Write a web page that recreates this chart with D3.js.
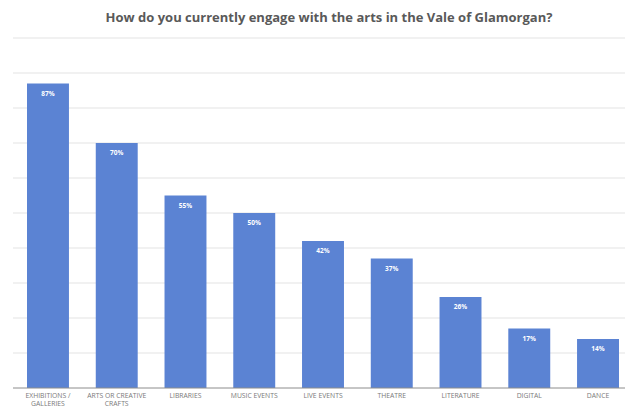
<!DOCTYPE html>
<html><head><meta charset="utf-8">
<script src="https://cdn.jsdelivr.net/npm/d3@7"></script>
<style>body{margin:0;background:#fff}svg{display:block}</style>
</head><body>
<script>
const title = "How do you currently engage with the arts in the Vale of Glamorgan?";
const categories = [["EXHIBITIONS /","GALLERIES"],["ARTS OR CREATIVE","CRAFTS"],["LIBRARIES"],["MUSIC EVENTS"],["LIVE EVENTS"],["THEATRE"],["LITERATURE"],["DIGITAL"],["DANCE"]];
const values = [87,70,55,50,42,37,26,17,14];
const gridTicks = [10,20,30,40,50,60,70,80,90,100];

const W=625,H=407;
const svg=d3.select("body").append("svg").attr("width",W).attr("height",H);
const x=d3.scaleBand().domain(d3.range(values.length)).range([13.6,632.4]).paddingInner(0.39).paddingOuter(0.195);
const y=d3.scaleLinear().domain([0,100]).range([388,38]);

svg.append("text").attr("x",329).attr("y",22).attr("text-anchor","middle")
  .attr("font-family","Open Sans, sans-serif").attr("font-weight","bold").attr("font-size",13)
  .attr("fill","#595959").text(title);

svg.append("g").selectAll("line").data(gridTicks).join("line")
  .attr("x1",13).attr("x2",625).attr("y1",d=>y(d)).attr("y2",d=>y(d))
  .attr("stroke","#e3e3e3").attr("stroke-width",1);

svg.append("g").selectAll("rect").data(values).join("rect")
  .attr("x",(d,i)=>x(i)).attr("width",x.bandwidth())
  .attr("y",d=>y(d)).attr("height",d=>y(0)-y(d)).attr("fill","#5b83d3");

svg.append("g").selectAll("text").data(values).join("text")
  .attr("x",(d,i)=>x(i)+x.bandwidth()/2).attr("y",d=>y(d)+12)
  .attr("text-anchor","middle").attr("font-family","Open Sans, sans-serif")
  .attr("font-weight","bold").attr("font-size",6.5).attr("fill","#fff").text(d=>d+"%");

svg.append("line").attr("x1",13).attr("x2",625).attr("y1",y(0)).attr("y2",y(0))
  .attr("stroke","#8c8c8c").attr("stroke-width",1);

const lab=svg.append("g").selectAll("text").data(categories).join("text")
  .attr("x",(d,i)=>x(i)+x.bandwidth()/2).attr("y",397.5)
  .attr("text-anchor","middle").attr("font-family","Open Sans, sans-serif")
  .attr("font-size",6.8).attr("fill","#7a7a7a");
lab.selectAll("tspan").data(d=>d).join("tspan")
  .attr("x",function(){return this.parentNode.getAttribute("x");})
  .attr("dy",(d,i)=>i?8:0).text(d=>d);
</script>
</body></html>
